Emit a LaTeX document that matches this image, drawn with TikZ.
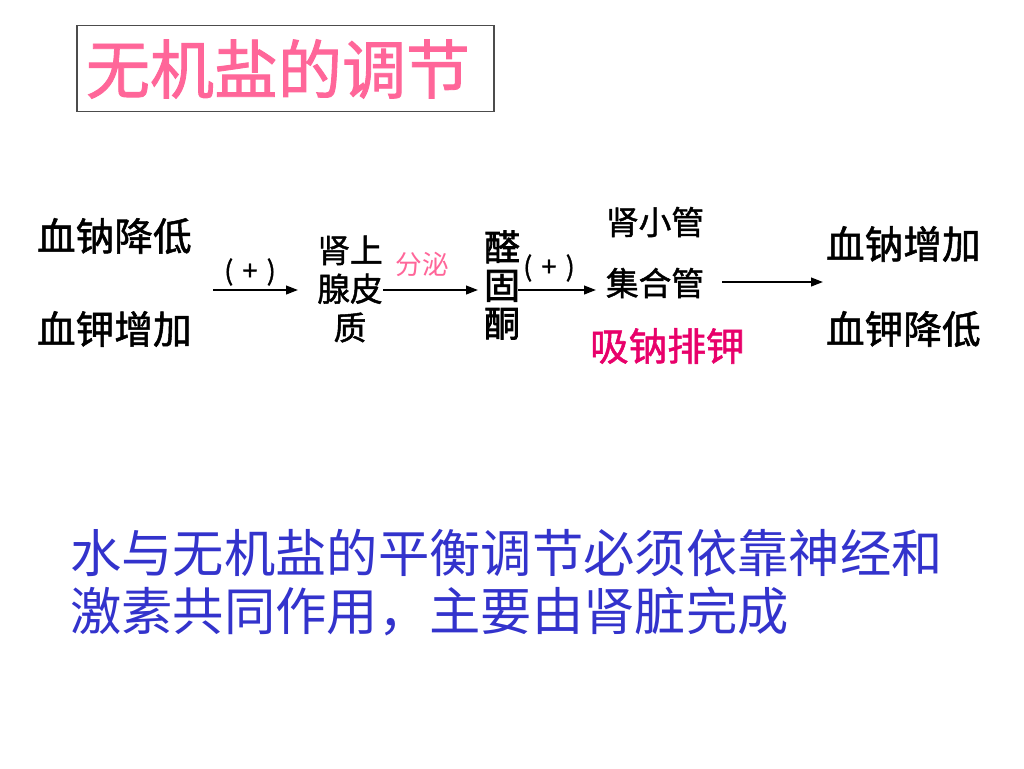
\documentclass[tikz,border=0pt]{standalone}
\usepackage{fontspec}
\setmainfont{Noto Sans CJK SC}
\newfontfamily\heavycjk{Noto Sans CJK SC}[FakeBold=1.4]
\newfontfamily\heavycjkb{Noto Sans CJK SC}[FakeBold=2.2]
\usetikzlibrary{arrows.meta}
\definecolor{titlepink}{HTML}{FF6699}
\definecolor{hotpink}{HTML}{E8006A}
\definecolor{noteblue}{HTML}{3333CC}
\newcommand{\plusmark}{(\hspace{7pt}+\hspace{7pt})}
\tikzset{
  lbl/.style={inner sep=0pt, outer sep=0pt, anchor=center},
  big/.style={lbl, font=\heavycjk\fontsize{29}{34}\selectfont},
  mid/.style={lbl, font=\heavycjk\fontsize{24.5}{29}\selectfont, align=center},
  small/.style={lbl, font=\heavycjk\fontsize{20}{24}\selectfont},
  flow/.style={line width=1.5pt, -{Triangle[length=9pt,width=6.5pt]}}
}
\begin{document}
\begin{tikzpicture}[x=0.75pt,y=-0.75pt]
\useasboundingbox[fill=white] (0,0) rectangle (1024,768);
% title
\node[draw=black!70, line width=0.8pt, minimum width=417*0.75pt, minimum height=86*0.75pt, inner sep=0pt] (titlebox) at (285.5,68.5) {};
\node[lbl, anchor=west, text=titlepink, font=\heavycjk\fontsize{48}{56}\selectfont] (title) at (86,69) {无机盐的调节};
% left
\node[big, anchor=west] (naLow) at (37,236) {血钠降低};
\node[big, anchor=west] (kHigh) at (37,329) {血钾增加};
\node[small] (plus1) at (250,272) {\plusmark};
% adrenal cortex
\node[mid] (adrenal) at (350,289) {肾上\\腺皮\\质};
\node[lbl, text=titlepink, font=\fontsize{20}{24}\selectfont] (secrete) at (422,264) {分泌};
% aldosterone
\node[lbl, align=center, font=\heavycjkb\fontsize{27}{28.5}\selectfont] (ald) at (502,285) {醛\\固\\酮};
\node[small] (plus2) at (549,268) {\plusmark};
% tubules
\node[mid, anchor=west] (tubule) at (606,222) {肾小管};
\node[mid, anchor=west] (duct) at (606,283) {集合管};
\node[big, anchor=west, text=hotpink] (absorb) at (590,346) {吸钠排钾};
% right
\node[big, anchor=west] (naHigh) at (826,244) {血钠增加};
\node[big, anchor=west] (kLow) at (826,329) {血钾降低};
% arrows
\coordinate (a1s) at (213,290); \coordinate (a1e) at (298,290);
\coordinate (a2s) at (383,290); \coordinate (a2e) at (478,290);
\coordinate (a3s) at (518,290); \coordinate (a3e) at (596,290);
\coordinate (a4s) at (722,282); \coordinate (a4e) at (823,282);
\draw[flow] (a1s) -- (a1e);
\draw[flow] (a2s) -- (a2e);
\draw[flow] (a3s) -- (a3e);
\draw[flow] (a4s) -- (a4e);
% bottom note
\node[lbl, anchor=west, text=noteblue, font=\fontsize{38.5}{44}\selectfont] (note1) at (70,553) {水与无机盐的平衡调节必须依靠神经和};
\node[lbl, anchor=west, text=noteblue, font=\fontsize{38.5}{44}\selectfont] (note2) at (70,611) {激素共同作用，主要由肾脏完成};
\end{tikzpicture}
\end{document}
